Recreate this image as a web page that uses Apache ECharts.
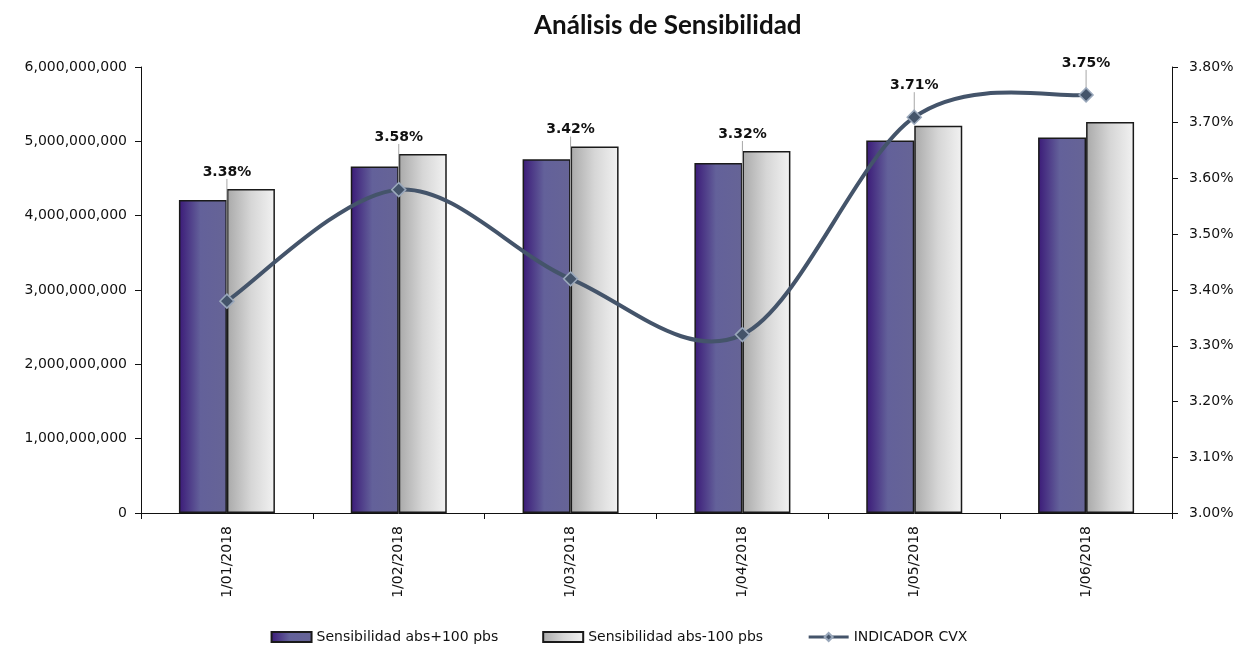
<!DOCTYPE html>
<html>
<head>
<meta charset="utf-8">
<title>Análisis de Sensibilidad</title>
<script src="https://cdn.jsdelivr.net/npm/echarts@6/dist/echarts.min.js"></script>
<style>
  html, body { margin: 0; padding: 0; background: #fff; }
  #chart { width: 1238px; height: 652px; }
</style>
</head>
<body>
<div id="chart"></div>
<script>
// Monthly sensitivity (absolute) for +100 / -100 bps shifts, and the convexity indicator (%)
const categories = ['1/01/2018', '1/02/2018', '1/03/2018', '1/04/2018', '1/05/2018', '1/06/2018'];
const sensUp = [4210000000, 4660000000, 4760000000, 4710000000, 5010000000, 5050000000];
const sensDown = [4360000000, 4830000000, 4930000000, 4870000000, 5210000000, 5260000000];
const cvx = [3.38, 3.58, 3.42, 3.32, 3.71, 3.75];
const seriesNames = ['Sensibilidad abs+100 pbs', 'Sensibilidad abs-100 pbs', 'INDICADOR CVX'];

const FONT = 'DejaVu Sans';
const LINE_COLOR = '#44546a';
const chart = echarts.init(document.getElementById('chart'), null, { renderer: 'canvas' });

function withThousands(v) {
  return String(Math.round(v)).replace(/\B(?=(\d{3})+(?!\d))/g, ',');
}

const purpleFill = new echarts.graphic.LinearGradient(0, 0, 1, 0, [
  { offset: 0, color: '#3b1a78' },
  { offset: 0.45, color: '#63619a' },
  { offset: 1, color: '#666496' }
]);
const grayFill = new echarts.graphic.LinearGradient(0, 0, 1, 0, [
  { offset: 0, color: '#a9a9a9' },
  { offset: 0.5, color: '#d6d6d6' },
  { offset: 1, color: '#f2f2f2' }
]);

// Cardinal (Catmull-Rom) spline through the indicator points, projected by the chart's own axes
function renderCurve(params, api) {
  if (params.dataIndex !== 0) return null;
  const p = cvx.map((v, j) => api.coord([j, v]));
  const n = p.length;
  let d = 'M' + p[0][0] + ',' + p[0][1];
  for (let i = 0; i < n - 1; i++) {
    const p0 = p[Math.max(i - 1, 0)];
    const p1 = p[i];
    const p2 = p[i + 1];
    const p3 = p[Math.min(i + 2, n - 1)];
    const c1x = p1[0] + (p2[0] - p0[0]) / 6;
    const c1y = p1[1] + (p2[1] - p0[1]) / 6;
    const c2x = p2[0] - (p3[0] - p1[0]) / 6;
    const c2y = p2[1] - (p3[1] - p1[1]) / 6;
    d += ' C' + c1x + ',' + c1y + ' ' + c2x + ',' + c2y + ' ' + p2[0] + ',' + p2[1];
  }
  return {
    type: 'path',
    shape: { pathData: d },
    style: { fill: 'none', stroke: LINE_COLOR, lineWidth: 4, lineJoin: 'round', lineCap: 'round' }
  };
}

const option = {
  backgroundColor: '#ffffff',
  animation: false,
  title: {
    text: 'Análisis de Sensibilidad',
    left: 529,
    top: 8,
    textStyle: { fontFamily: 'Lato', fontWeight: 'bold', fontSize: 26, color: '#111' }
  },
  legend: {
    bottom: 3,
    left: 'center',
    itemWidth: 40,
    itemHeight: 10,
    itemGap: 44,
    textStyle: { fontFamily: FONT, fontSize: 14, color: '#111' },
    data: [
      { name: seriesNames[0], icon: 'rect' },
      { name: seriesNames[1], icon: 'rect' },
      { name: seriesNames[2], lineStyle: { color: LINE_COLOR, width: 3, opacity: 1 } }
    ]
  },
  grid: { left: 141, right: 66, top: 67, bottom: 139, containLabel: false },
  xAxis: {
    type: 'category',
    data: categories,
    boundaryGap: true,
    axisLine: { lineStyle: { color: '#111', width: 1 } },
    axisTick: { show: true, alignWithLabel: false, length: 6, lineStyle: { color: '#111' } },
    axisLabel: { rotate: 90, margin: 13, fontFamily: FONT, fontSize: 14, color: '#111' },
    splitLine: { show: false }
  },
  yAxis: [
    {
      type: 'value',
      min: 0,
      max: 6000000000,
      interval: 1000000000,
      axisLine: { show: true, lineStyle: { color: '#111', width: 1 } },
      axisTick: { show: true, length: 6, lineStyle: { color: '#111' } },
      axisLabel: { margin: 14, fontFamily: FONT, fontSize: 14, color: '#111', formatter: withThousands },
      splitLine: { show: false }
    },
    {
      type: 'value',
      position: 'right',
      min: 3.0,
      max: 3.8,
      interval: 0.1,
      axisLine: { show: true, lineStyle: { color: '#111', width: 1 } },
      axisTick: { show: true, length: 6, lineStyle: { color: '#111' } },
      axisLabel: { margin: 17, fontFamily: FONT, fontSize: 14, color: '#111', formatter: v => v.toFixed(2) + '%' },
      splitLine: { show: false }
    }
  ],
  series: [
    {
      name: seriesNames[0],
      type: 'bar',
      data: sensUp,
      barWidth: 48,
      barGap: '0%',
      itemStyle: { color: purpleFill, borderColor: '#1a1a1a', borderWidth: 1.5 },
      z: 2
    },
    {
      name: seriesNames[1],
      type: 'bar',
      data: sensDown,
      barWidth: 48,
      barGap: '0%',
      itemStyle: { color: grayFill, borderColor: '#1a1a1a', borderWidth: 1.5 },
      z: 2
    },
    {
      name: seriesNames[2],
      type: 'line',
      yAxisIndex: 1,
      data: cvx,
      symbol: 'diamond',
      symbolSize: 14,
      lineStyle: { color: LINE_COLOR, width: 4, opacity: 0 },
      itemStyle: { color: LINE_COLOR, borderColor: '#9aa8bb', borderWidth: 1.5 },
      z: 6,
      label: {
        show: true,
        formatter: p => p.value.toFixed(2) + '%',
        fontFamily: FONT,
        fontWeight: 'bold',
        fontSize: 14,
        color: '#111'
      },
      labelLine: { show: true, length2: 0, lineStyle: { color: '#a6a6a6', width: 1 } },
      // Each percentage sits just above whichever is higher: the -100 bps bar or the point itself
      labelLayout: function (p) {
        const i = p.dataIndex;
        const barTop = chart.convertToPixel({ yAxisIndex: 0 }, sensDown[i]);
        const cx = p.rect.x + p.rect.width / 2;
        const cy = p.rect.y + p.rect.height / 2;
        const lift = cy < barTop ? 32 : 17;
        return { x: cx, y: Math.min(barTop, cy) - lift, align: 'center', verticalAlign: 'middle' };
      }
    },
    {
      name: seriesNames[2],
      type: 'custom',
      yAxisIndex: 1,
      data: cvx.map((v, i) => [i, v]),
      encode: { x: 0, y: 1 },
      renderItem: renderCurve,
      silent: true,
      z: 5
    }
  ]
};

chart.setOption(option);
</script>
</body>
</html>
